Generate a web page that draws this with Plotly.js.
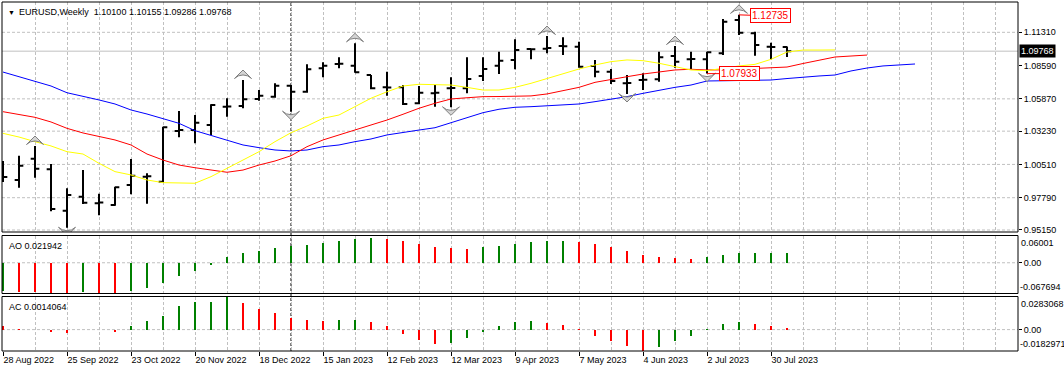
<!DOCTYPE html>
<html><head><meta charset="utf-8">
<script src="https://cdn.plot.ly/plotly-3.0.1.min.js"></script>
<style>html,body{margin:0;padding:0;background:#fff;}#chart{width:1064px;height:372px;}</style>
</head><body><div id="chart"></div>
<script>
// ---------- data ----------
const dates = ['2022-08-28','2022-09-04','2022-09-11','2022-09-18','2022-09-25','2022-10-02','2022-10-09','2022-10-16','2022-10-23','2022-10-30',
'2022-11-06','2022-11-13','2022-11-20','2022-11-27','2022-12-04','2022-12-11','2022-12-18','2022-12-25','2023-01-01','2023-01-08',
'2023-01-15','2023-01-22','2023-01-29','2023-02-05','2023-02-12','2023-02-19','2023-02-26','2023-03-05','2023-03-12','2023-03-19',
'2023-03-26','2023-04-02','2023-04-09','2023-04-16','2023-04-23','2023-04-30','2023-05-07','2023-05-14','2023-05-21','2023-05-28',
'2023-06-04','2023-06-11','2023-06-18','2023-06-25','2023-07-02','2023-07-09','2023-07-16','2023-07-23','2023-07-30','2023-08-06',
'2023-08-13','2023-08-20','2023-08-27','2023-09-03','2023-09-10','2023-09-17','2023-09-24','2023-10-01'];

const open = [1.00300,0.99237,1.00978,1.00111,0.96727,0.97872,0.97332,0.97193,0.98828,0.99507,
0.99098,1.03242,1.03324,1.03732,1.05228,1.05286,1.05858,1.06046,1.06945,1.06454,
1.08367,1.08719,1.08580,1.07819,1.06814,1.06814,1.05506,1.06324,1.06732,1.06732,
1.07738,1.08580,1.09046,1.09945,1.09970,1.10190,1.10133,1.08555,1.08089,1.07141,
1.07411,1.07468,1.09373,1.09103,1.09103,1.09593,1.12315,1.11228,1.10133,1.10100];
const high = [1.00790,1.01223,1.02016,1.00545,0.98558,1.00054,0.98117,0.98689,1.00953,0.99784,
1.03594,1.04877,1.04550,1.05425,1.05915,1.07411,1.06593,1.07141,1.07002,1.08694,
1.08858,1.09266,1.10411,1.07819,1.08089,1.07002,1.06920,1.07002,1.07631,1.09266,
1.09266,1.09724,1.10738,1.10002,1.11007,1.10901,1.10541,1.09046,1.08310,1.07819,
1.07958,1.09724,1.10190,1.09724,1.09724,1.12397,1.12735,1.11359,1.10460,1.10155];
const low = [0.99073,0.98607,0.99425,0.96678,0.95338,0.97275,0.96351,0.97136,0.98068,0.97300,
0.99016,1.02727,1.02237,1.02915,1.04411,1.05098,1.05719,1.05964,1.04820,1.06373,
1.07631,1.08367,1.08008,1.06651,1.06128,1.05367,1.05449,1.05228,1.05179,1.06324,
1.07329,1.07901,1.08285,1.09103,1.09593,1.09454,1.08416,1.07631,1.07084,1.06266,
1.06593,1.07272,1.08416,1.08310,1.07933,1.09454,1.11089,1.09397,1.09103,1.09286];
const close = [0.99482,1.00406,1.00160,0.96866,0.98011,0.97381,0.97400,0.98640,0.99588,0.99550,
1.03544,1.03324,1.03920,1.05367,1.05250,1.05833,1.06128,1.06945,1.06454,1.08285,
1.08580,1.08740,1.08040,1.06732,1.06800,1.05449,1.06373,1.06373,1.06750,1.07493,
1.08310,1.08988,1.09863,1.09920,1.10020,1.10170,1.08498,1.08089,1.07329,1.07160,
1.07430,1.09266,1.08907,1.09120,1.09675,1.12176,1.11277,1.10272,1.10100,1.09768];

// Alligator (jaw shifted 8, teeth 5, lips 3)
const jaw = [1.0806,1.0766,1.0727,1.0692,1.0637,1.0610,1.0578,1.0545,1.0496,1.0463,
1.0428,1.0387,1.0327,1.0286,1.0251,1.0210,1.0188,1.0169,1.0161,1.0169,
1.0196,1.0210,1.0237,1.0259,1.0292,1.0314,1.0332,1.0351,1.0392,1.0436,
1.0474,1.0502,1.0518,1.0523,1.0529,1.0534,1.0545,1.0564,1.0583,1.0605,
1.0632,1.0659,1.0681,1.0700,1.0733,1.0735,1.0736,1.0737,1.0741,1.0753,
1.0766,1.0774,1.0782,1.0815,1.0839,1.0856,1.0864,1.0872];
const teeth = [1.0482,1.0459,1.0436,1.0398,1.0346,1.0308,1.0278,1.0251,1.0210,1.0136,
1.0087,1.0046,1.0024,1.0005,0.9987,1.0005,1.0046,1.0079,1.0122,1.0196,
1.0251,1.0292,1.0332,1.0373,1.0414,1.0461,1.0510,1.0551,1.0586,1.0596,
1.0605,1.0606,1.0610,1.0611,1.0627,1.0654,1.0681,1.0722,1.0747,1.0768,
1.0790,1.0809,1.0823,1.0829,1.0823,1.0824,1.0829,1.0831,1.0837,1.0847,
1.0876,1.0905,1.0929,1.0937,1.0945];
const lips = [1.0305,1.0275,1.0237,1.0202,1.0155,1.0136,1.0060,0.9992,0.9965,0.9924,
0.9902,0.9902,0.9897,0.9951,1.0019,1.0087,1.0155,1.0237,1.0310,1.0365,
1.0428,1.0455,1.0523,1.0592,1.0645,1.0692,1.0706,1.0706,1.0700,1.0681,
1.0659,1.0659,1.0681,1.0714,1.0755,1.0790,1.0831,1.0864,1.0891,1.0905,
1.0899,1.0878,1.0850,1.0823,1.0817,1.0837,1.0856,1.0869,1.0910,1.0970,
1.0986,1.0986,1.0987];

// Awesome Oscillator & Accelerator
const aoPrev = -0.0620;
const ao = [-0.0614,-0.0650,-0.0654,-0.0658,-0.067694,-0.0652,-0.0656,-0.0672,-0.0630,-0.0550,
-0.0456,-0.0291,-0.0173,-0.0055,0.0125,0.0205,0.0249,0.0315,0.0359,0.0389,
0.0425,0.0469,0.0513,0.0540,0.0513,0.0469,0.0403,0.0337,0.0315,0.0293,
0.0337,0.0359,0.0403,0.0447,0.0469,0.0471,0.0447,0.0403,0.0337,0.0249,
0.0161,0.0117,0.0095,0.0093,0.0117,0.0161,0.0205,0.0207,0.0209,0.021942];
const acPrev = 0.0045;
const ac = [0.0034,0.0009,-0.0003,-0.0017,-0.0026,-0.0005,-0.0007,-0.0017,0.0034,0.0077,
0.0119,0.0204,0.0238,0.0240,0.0283068,0.0230,0.0179,0.0145,0.0102,0.0085,
0.0077,0.0085,0.0086,0.0068,0.0034,-0.0034,-0.0085,-0.0119,-0.0111,-0.0068,
-0.0017,0.0034,0.0068,0.0077,0.0060,0.0043,0.0009,-0.0051,-0.0094,-0.0136,
-0.0182971,-0.0145,-0.0094,-0.0051,0.0005,0.0051,0.0068,0.0051,0.0034,0.0014064];

const priceTicks = [1.11310,1.08590,1.05870,1.03230,1.00510,0.97790,0.95150];
const priceGrid  = [1.11310,1.05870,1.03230,1.00510,0.97790,0.95150];
const tickDates = ['2022-08-28','2022-09-25','2022-10-23','2022-11-20','2022-12-18','2023-01-15',
'2023-02-12','2023-03-12','2023-04-09','2023-05-07','2023-06-04','2023-07-02','2023-07-30'];
const fractalUp = [2,15,22,34,42,46];
const fractalDown = [4,18,28,39,44];
const yearSep = '2023-01-01';
const symbol = 'EURUSD', period = 'Weekly';
const aoMax = 0.06001, aoMin = -0.067694;
const acMax = 0.0283068, acMin = -0.0182971;
const maxMark = {i:46, v:1.12735};
const minMark = {i:44, v:1.07933};

// ---------- layout geometry ----------
const W = 1064, H = 372;
const mL = 2, mR = 46, mT = 2, mB = 21;
const plotH = H - mT - mB;
const dom = (yTop, yBot) => [(H - mB - yBot)/plotH, (H - mB - yTop)/plotH];
const mainDom = dom(2, 232), aoDom = dom(235.5, 293.5), acDom = dom(296.5, 351);
const yRange = [0.94986, 1.13787];
const mainPx = (mainDom[1]-mainDom[0])*plotH;
const pp = (yRange[1]-yRange[0])/mainPx;

const WEEK = 7*86400000;
const t0 = Date.parse(dates[0]+'T00:00:00Z');
const xRange = [t0 - WEEK/16, t0 + WEEK*(1015/16)];
const nb = close.length;
const bx = dates.slice(0, nb);

const GREEN = '#008000', RED = '#ff0000';
const colorize = (arr, prev) => arr.map((v,i) => v > (i ? arr[i-1] : prev) ? GREEN : RED);

const traces = [
  {type:'scatter', mode:'lines', x:dates.slice(0,jaw.length), y:jaw, line:{color:'#0000ff', width:1}, hoverinfo:'skip'},
  {type:'scatter', mode:'lines', x:dates.slice(0,teeth.length), y:teeth, line:{color:'#ff0000', width:1}, hoverinfo:'skip'},
  {type:'scatter', mode:'lines', x:dates.slice(0,lips.length), y:lips, line:{color:'#ffff00', width:1}, hoverinfo:'skip'},
  {type:'ohlc', x:bx, open:open, high:high, low:low, close:close, tickwidth:0.27,
   increasing:{line:{color:'#000', width:2}}, decreasing:{line:{color:'#000', width:2}}, hoverinfo:'skip'},
  {type:'scatter', mode:'markers', x:fractalUp.map(i=>dates[i]), y:fractalUp.map(i=>high[i] + 10*pp),
   marker:{symbol:'arrow-wide', angle:0, size:12, color:'#d4d4d4', line:{color:'#808080', width:1}}, hoverinfo:'skip'},
  {type:'scatter', mode:'markers', x:fractalDown.map(i=>dates[i]), y:fractalDown.map(i=>low[i] - 8*pp),
   marker:{symbol:'arrow-wide', angle:180, size:12, color:'#d4d4d4', line:{color:'#808080', width:1}}, hoverinfo:'skip'},
  {type:'bar', x:bx, y:ao, yaxis:'y2', width:WEEK*2/16, marker:{color:colorize(ao, aoPrev), line:{width:0}}, hoverinfo:'skip'},
  {type:'bar', x:bx, y:ac, yaxis:'y3', width:WEEK*2/16, marker:{color:colorize(ac, acPrev), line:{width:0}}, hoverinfo:'skip'}
];

const GRID = '#c0c0c0', DASH = '3px,2px';
const shapes = [];
priceGrid.forEach(v => shapes.push({type:'line', xref:'paper', x0:0, x1:1, yref:'y', y0:v, y1:v, layer:'below', line:{color:GRID, width:1, dash:DASH}}));
shapes.push({type:'line', xref:'paper', x0:0, x1:1, yref:'y', y0:close[nb-1], y1:close[nb-1], layer:'below', line:{color:'#c0c0c0', width:1}});
shapes.push({type:'line', xref:'paper', x0:0, x1:1, yref:'y2', y0:0, y1:0, layer:'below', line:{color:GRID, width:1, dash:DASH}});
shapes.push({type:'line', xref:'paper', x0:0, x1:1, yref:'y3', y0:0, y1:0, layer:'below', line:{color:GRID, width:1, dash:DASH}});
shapes.push({type:'line', xref:'x', x0:yearSep, x1:yearSep, yref:'paper', y0:0, y1:1, layer:'below', line:{color:'#000', width:1, dash:'3px,2px'}});
['y','y2','y3'].forEach(a => shapes.push({type:'rect', xref:'paper', x0:0, x1:1, yref:a+' domain', y0:0, y1:1, layer:'above', line:{color:'#000', width:1}, fillcolor:'rgba(0,0,0,0)'}));

const F = 'Liberation Sans, Arial, sans-serif';
const FS = 9;
const annotations = [
  {xref:'paper', yref:'paper', x:0, y:1, xanchor:'left', yanchor:'top', xshift:4, yshift:-5, text:'▼', showarrow:false, font:{family:F, size:7, color:'#000'}},
  {xref:'paper', yref:'paper', x:0, y:1, xanchor:'left', yanchor:'top', xshift:15, yshift:-3,
   text: symbol+','+period+'\u00a0\u00a0'+[open[nb-1],high[nb-1],low[nb-1],close[nb-1]].map(v=>v.toFixed(5)).join(' '),
   showarrow:false, font:{family:F, size:FS, color:'#000'}},
  {xref:'paper', yref:'y2 domain', x:0, y:1, xanchor:'left', yanchor:'top', xshift:5, yshift:-3, text:'AO '+ao[nb-1], showarrow:false, font:{family:F, size:FS, color:'#000'}},
  {xref:'paper', yref:'y3 domain', x:0, y:1, xanchor:'left', yanchor:'top', xshift:5, yshift:-3, text:'AC '+ac[nb-1], showarrow:false, font:{family:F, size:FS, color:'#000'}},
  {xref:'paper', yref:'y', x:1, y:close[nb-1], xanchor:'left', yanchor:'middle', xshift:1, text:close[nb-1].toFixed(5), showarrow:false,
   bgcolor:'#000', borderpad:1, font:{family:F, size:FS, color:'#fff'}},
  {xref:'paper', yref:'y2', x:1, y:aoMax, xanchor:'left', yanchor:'top', xshift:1, text:String(aoMax), showarrow:false, font:{family:F, size:FS, color:'#000'}},
  {xref:'paper', yref:'y2', x:1, y:aoMin, xanchor:'left', yanchor:'bottom', xshift:0, text:String(aoMin), showarrow:false, font:{family:F, size:FS, color:'#000'}},
  {xref:'paper', yref:'y3', x:1, y:acMax, xanchor:'left', yanchor:'top', xshift:1, text:String(acMax), showarrow:false, font:{family:F, size:FS, color:'#000'}},
  {xref:'paper', yref:'y3', x:1, y:acMin, xanchor:'left', yanchor:'bottom', xshift:0, text:String(acMin), showarrow:false, font:{family:F, size:FS, color:'#000'}},
  {xref:'x', yref:'y', x:dates[maxMark.i], y:maxMark.v, ax:31, ay:1, showarrow:true, arrowhead:0, arrowwidth:1, arrowcolor:RED, standoff:0,
   text:maxMark.v.toFixed(5), bgcolor:'#fff', bordercolor:RED, borderwidth:1, borderpad:1, font:{family:F, size:10, color:RED}},
  {xref:'x', yref:'y', x:dates[minMark.i], y:minMark.v, ax:32, ay:0, showarrow:true, arrowhead:0, arrowwidth:1, arrowcolor:RED, standoff:0,
   text:minMark.v.toFixed(5), bgcolor:'#fff', bordercolor:RED, borderwidth:1, borderpad:1, font:{family:F, size:10, color:RED}}
];

const yCommon = {side:'right', anchor:'x', ticks:'outside', ticklen:3, tickcolor:'#000', showgrid:false, zeroline:false, showline:false, fixedrange:true,
  tickfont:{family:F, size:FS, color:'#000'}};

const layout = {
  width:W, height:H, margin:{l:mL, r:mR, t:mT, b:mB, pad:0},
  paper_bgcolor:'#fff', plot_bgcolor:'#fff', showlegend:false, hovermode:false, bargap:0,
  font:{family:F, size:FS, color:'#000'},
  xaxis:{type:'date', range:xRange, anchor:'y3', tickmode:'array', tickvals:tickDates, tickformat:'%-d %b %Y',
    tickangle:0, ticks:'outside', ticklen:4, tickcolor:'#000', ticklabelposition:'outside right',
    showgrid:true, gridcolor:GRID, griddash:DASH, gridwidth:1, zeroline:false, showline:false,
    minor:{tickmode:'linear', tick0:dates[0], dtick:WEEK*2, showgrid:true, gridcolor:GRID, griddash:DASH, ticks:''},
    rangeslider:{visible:false}, fixedrange:true, tickfont:{family:F, size:FS, color:'#000'}},
  yaxis:Object.assign({}, yCommon, {domain:mainDom, range:yRange, tickmode:'array', tickvals:priceTicks, tickformat:'.5f'}),
  yaxis2:Object.assign({}, yCommon, {domain:aoDom, range:[aoMin, aoMax], tickmode:'array', tickvals:[0], ticktext:['0.00']}),
  yaxis3:Object.assign({}, yCommon, {domain:acDom, range:[acMin, acMax], tickmode:'array', tickvals:[0], ticktext:['0.00']}),
  shapes:shapes, annotations:annotations
};

Plotly.newPlot('chart', traces, layout, {displayModeBar:false, staticPlot:true});
</script></body></html>
